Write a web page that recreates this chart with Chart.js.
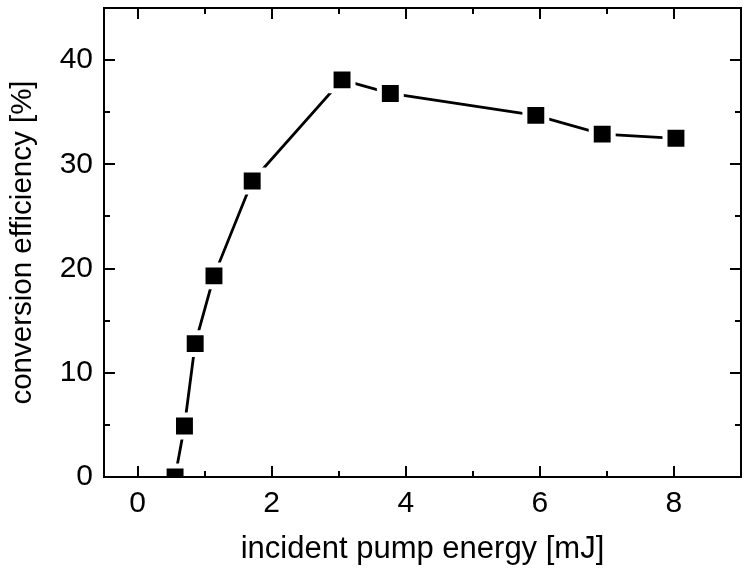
<!DOCTYPE html>
<html>
<head>
<meta charset="utf-8">
<script src="https://cdn.jsdelivr.net/npm/chart.js@4/dist/chart.umd.min.js"></script>
<style>
  html, body { margin: 0; padding: 0; background: #fff; }
  #wrap { width: 751px; height: 572px; }
</style>
</head>
<body>
<div id="wrap"><canvas id="myChart" width="751" height="572"></canvas></div>
<script>
// pump energy [mJ] vs conversion efficiency [%]
const pumpEnergy = [0.56, 0.70, 0.86, 1.14, 1.71, 3.05, 3.77, 5.94, 6.93, 8.03]
const efficiency = [0.0, 4.9, 12.8, 19.3, 28.4, 38.1, 36.8, 34.7, 32.9, 32.5]

const xMajorTicks = [0, 2, 4, 6, 8]
const xMinorTicks = [1, 3, 5, 7]
const yMajorTicks = [0, 10, 20, 30, 40]
const yMinorTicks = [5, 15, 25, 35]

const fontFam = "'Liberation Sans', Arial, sans-serif"

// frame + inward ticks on all four sides
const frameTicks = {
  id: 'frameTicks',
  afterDraw(chart) {
    const ctx = chart.ctx
    const a = chart.chartArea
    const xs = chart.scales.x
    const ys = chart.scales.y
    ctx.save()
    ctx.strokeStyle = '#000'
    ctx.lineWidth = 2
    ctx.beginPath()
    xMajorTicks.concat(xMinorTicks).forEach((v) => {
      const len = xMajorTicks.includes(v) ? 11 : 6
      const px = Math.round(xs.getPixelForValue(v))
      ctx.moveTo(px, a.bottom); ctx.lineTo(px, a.bottom - len)
      ctx.moveTo(px, a.top); ctx.lineTo(px, a.top + len)
    })
    yMajorTicks.concat(yMinorTicks).forEach((v) => {
      const len = yMajorTicks.includes(v) ? 11 : 6
      const py = Math.round(ys.getPixelForValue(v))
      ctx.moveTo(a.left, py); ctx.lineTo(a.left + len, py)
      ctx.moveTo(a.right, py); ctx.lineTo(a.right - len, py)
    })
    ctx.stroke()
    ctx.strokeRect(a.left, a.top, a.right - a.left, a.bottom - a.top)
    ctx.restore()
  }
}

const ctx = document.getElementById('myChart').getContext('2d')
let chart = new Chart(ctx, {
  type: 'scatter',
  data: {
    datasets: [
      {
        data: pumpEnergy.map((x, i) => ({ x: x, y: efficiency[i] })),
        showLine: true,
        borderColor: '#000',
        borderWidth: 2.8,
        pointStyle: 'rect',
        pointRadius: 15.5,
        pointHoverRadius: 15.5,
        pointBackgroundColor: '#000',
        pointBorderColor: '#fff',
        pointBorderWidth: 5,
        clip: 0,
      },
    ],
  },
  options: {
    responsive: false,
    animation: false,
    layout: { autoPadding: false, padding: { top: 8, right: 10, left: 0, bottom: 0 } },
    plugins: {
      legend: { display: false },
      tooltip: { enabled: false },
    },
    scales: {
      x: {
        type: 'linear',
        min: -0.5,
        max: 9,
        grid: { display: false, drawTicks: false },
        border: { display: false },
        afterBuildTicks: (scale) => {
          scale.ticks = xMajorTicks.map((v) => ({ value: v }))
        },
        afterFit: (scale) => {
          scale.height = 95
          scale.paddingLeft = 0
          scale.paddingRight = 0
        },
        ticks: {
          padding: 9,
          color: '#000',
          font: { family: fontFam, size: 30 },
          maxRotation: 0,
        },
        title: {
          display: true,
          text: 'incident pump energy [mJ]',
          color: '#000',
          font: { family: fontFam, size: 31 },
          padding: { top: 0, bottom: 4 },
        },
      },
      y: {
        type: 'linear',
        min: 0,
        max: 45,
        grid: { display: false, drawTicks: false },
        border: { display: false },
        afterBuildTicks: (scale) => {
          scale.ticks = yMajorTicks.map((v) => ({ value: v }))
        },
        afterFit: (scale) => {
          scale.width = 104
          scale.paddingTop = 0
          scale.paddingBottom = 0
        },
        ticks: {
          padding: 11,
          color: '#000',
          font: { family: fontFam, size: 30 },
        },
        title: {
          display: true,
          text: 'conversion efficiency [%]',
          color: '#000',
          font: { family: fontFam, size: 29.5 },
          padding: { top: 5, bottom: 0 },
        },
      },
    },
  },
  plugins: [frameTicks],
})
</script>
</body>
</html>
